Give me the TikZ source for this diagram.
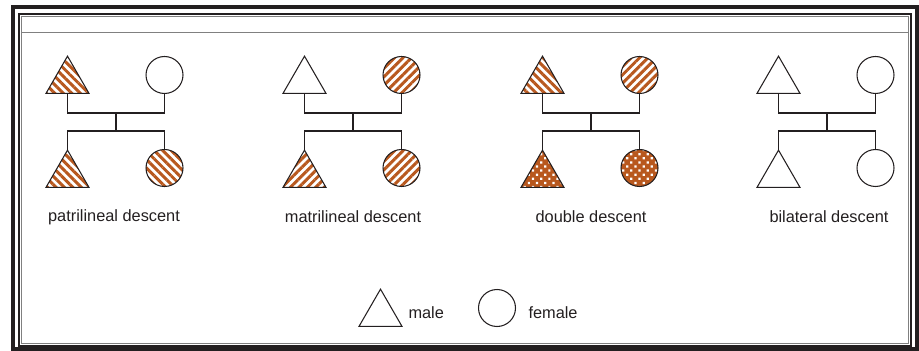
\documentclass[tikz,border=0pt]{standalone}
\usepackage{fontspec}
\setmainfont{Liberation Sans}
\usepackage{tikz}
\usetikzlibrary{shapes.geometric, patterns.meta}
\definecolor{hatch}{RGB}{184,88,30}
\definecolor{ink}{RGB}{35,31,32}

\begin{document}
\begin{tikzpicture}[x=0.02cm, y=-0.02cm, font=\fontsize{9.3}{11}\selectfont, line width=0.6pt, color=ink,
  male/.style={regular polygon, regular polygon sides=3, draw, inner sep=0pt, outer sep=0pt, minimum size=0.994cm},
  female/.style={circle, draw, inner sep=0pt, outer sep=0pt, minimum size=0.74cm},
  patri/.style={pattern={Lines[angle=-45, distance=3.4pt, line width=1.7pt]}, pattern color=hatch},
  matri/.style={pattern={Lines[angle=45, distance=3.4pt, line width=1.7pt]}, pattern color=hatch},
  dbl/.style={preaction={fill=hatch}, pattern={Dots[angle=45, distance=3.3pt, radius=0.9pt]}, pattern color=white}]
  \useasboundingbox (0,0) rectangle (919,351);
  % frame
  \draw[line width=2.3pt] (13,7) rectangle (917,349);
  \draw[line width=0.7pt] (19,14) rectangle (911,346);
  \draw[gray, line width=0.6pt] (21.5,16.5) rectangle (908.5,343.5);
  \draw[gray, line width=0.7pt] (21.5,32.5) -- (908.5,32.5);
  % patrilineal
  \node[male, patri] (f1) at (67.5,81) {}; \node[female] (m1) at (164.5,75) {};
  \node[male, patri] (s1) at (67.5,175) {}; \node[female, patri] (d1) at (164.5,168) {};
  \coordinate (mar1) at (116,113); \coordinate (sib1) at (116,131);
  \draw (f1.side 2) |- (mar1) -| (m1.south); \draw (mar1) -- (sib1);
  \draw (s1.corner 1) |- (sib1) -| (d1.north);
  \node (cap1) at (114,217) {patrilineal descent};
  % matrilineal
  \node[male] (f2) at (304.5,81) {}; \node[female, matri] (m2) at (401.5,75) {};
  \node[male, matri] (s2) at (304.5,175) {}; \node[female, matri] (d2) at (401.5,168) {};
  \coordinate (mar2) at (353,113); \coordinate (sib2) at (353,131);
  \draw (f2.side 2) |- (mar2) -| (m2.south); \draw (mar2) -- (sib2);
  \draw (s2.corner 1) |- (sib2) -| (d2.north);
  \node (cap2) at (353,217) {matrilineal descent};
  % double
  \node[male, patri] (f3) at (542.5,81) {}; \node[female, matri] (m3) at (639.5,75) {};
  \node[male, dbl] (s3) at (542.5,175) {}; \node[female, dbl] (d3) at (639.5,168) {};
  \coordinate (mar3) at (591,113); \coordinate (sib3) at (591,131);
  \draw (f3.side 2) |- (mar3) -| (m3.south); \draw (mar3) -- (sib3);
  \draw (s3.corner 1) |- (sib3) -| (d3.north);
  \node (cap3) at (591,217) {double descent};
  % bilateral
  \node[male] (f4) at (778.5,81) {}; \node[female] (m4) at (875.5,75) {};
  \node[male] (s4) at (778.5,175) {}; \node[female] (d4) at (875.5,168) {};
  \coordinate (mar4) at (827,113); \coordinate (sib4) at (827,131);
  \draw (f4.side 2) |- (mar4) -| (m4.south); \draw (mar4) -- (sib4);
  \draw (s4.corner 1) |- (sib4) -| (d4.north);
  \node (cap4) at (829,217) {bilateral descent};
  % key
  \node[male] (km) at (380.5,314) {}; \node[anchor=west, inner sep=0pt] (kmt) at (408,313) {male};
  \node[female] (kf) at (497,308) {}; \node[anchor=west, inner sep=0pt] (kft) at (528,313) {female};
\end{tikzpicture}
\end{document}
